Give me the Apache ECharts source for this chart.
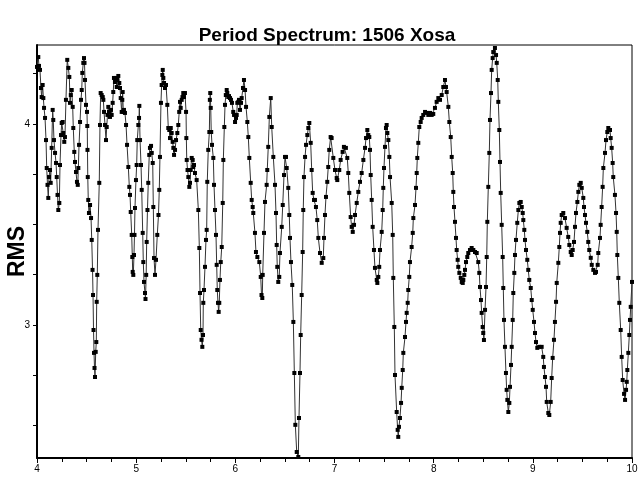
<!DOCTYPE html>
<html><head><meta charset="utf-8">
<script src="https://cdn.jsdelivr.net/npm/echarts@6/dist/echarts.min.js"></script>
<style>html,body{margin:0;padding:0;background:#fff}#c{width:640px;height:482px}</style>
</head><body><div id="c"></div>
<script>
const chartTitle = 'Period Spectrum: 1506 Xosa';
const yName = 'RMS';
const xRange = [4, 10];
const yRange = [2.338, 4.393];
const yLabelValues = [3, 4];
const yTickValues = [2.5, 2.75, 3, 3.25, 3.5, 3.75, 4, 4.25];

const periods = [
4.000,4.013,4.020,4.030,4.040,4.047,4.057,4.064,4.071,4.081,
4.091,4.098,4.106,4.114,4.121,4.131,4.138,4.148,4.158,4.164,
4.171,4.182,4.192,4.199,4.207,4.215,4.225,4.232,4.242,4.249,
4.259,4.265,4.275,4.282,4.292,4.305,4.316,4.326,4.333,4.341,
4.350,4.360,4.366,4.376,4.383,4.393,4.403,4.411,4.417,4.424,
4.434,4.444,4.451,4.457,4.467,4.474,
4.479,4.484,4.494,4.504,4.507,4.509,4.512,4.517,4.524,4.535,
4.545,4.552,4.560,4.565,4.570,4.575,4.580,4.585,4.592,4.598,
4.602,4.608,4.615,4.628,4.635,4.642,4.652,4.663,4.669,4.676,
4.686,4.696,4.703,4.711,4.719,4.726,4.736,4.746,4.753,4.763,
4.769,4.776,4.786,4.797,4.804,4.810,4.820,4.830,4.837,4.844,
4.854,4.860,4.864,4.870,4.877,4.887,4.898,4.908,4.921,4.931,
4.938,4.945,4.955,4.961,4.965,4.971,
4.978,4.983,4.988,4.998,5.005,5.011,5.022,5.029,5.032,5.039,
5.049,5.056,5.066,5.072,5.079,5.089,5.094,5.101,5.106,5.114,
5.122,5.132,5.139,5.150,5.157,5.167,5.173,5.180,5.190,5.200,
5.213,5.225,5.233,5.240,5.250,5.257,5.264,5.268,5.274,5.281,
5.291,5.301,5.314,5.324,5.334,5.341,5.349,5.358,5.368,5.375,
5.382,5.392,5.402,5.415,5.425,5.434,5.442,5.449,5.459,5.467,
5.475,5.482,5.492,5.503,5.506,5.510,5.518,5.526,5.536,5.543,
5.550,5.560,5.570,5.576,5.583,5.593,5.610,5.627,5.637,5.644,
5.651,5.659,5.667,5.674,5.677,5.684,5.694,5.704,5.711,5.717,
5.727,5.738,5.743,5.747,5.752,5.757,5.765,5.778,5.785,5.795,
5.805,5.812,5.818,5.825,5.832,5.838,5.845,5.853,5.863,5.873,
5.879,5.889,5.896,5.904,5.913,5.919,5.929,5.936,5.946,5.956,
5.966,5.979,5.987,5.997,6.007,6.014,6.020,6.030,6.037,6.047,
6.057,6.064,6.077,6.087,6.098,6.108,6.121,
6.131,6.141,6.155,6.165,6.175,6.181,6.198,6.208,6.222,6.242,
6.256,6.264,6.272,6.276,6.289,6.299,6.316,6.322,6.332,6.343,
6.357,6.367,6.383,6.400,6.410,6.417,6.423,6.433,6.443,6.450,
6.468,6.478,6.491,6.501,6.511,6.518,6.534,6.544,6.551,6.561,
6.574,6.585,6.595,6.605,6.619,6.635,6.642,6.652,6.659,6.669,
6.679,6.685,6.692,6.703,6.713,6.726,6.736,6.746,6.760,6.770,
6.780,6.793,6.803,6.813,6.826,6.837,6.854,6.871,6.887,6.894,
6.904,6.914,6.927,6.937,6.947,6.961,6.971,6.988,7.005,7.022,
7.028,7.048,7.062,7.082,7.095,7.115,7.129,7.139,7.149,7.163,
7.173,7.184,7.197,7.207,7.224,7.240,7.257,7.274,7.291,7.308,
7.318,7.331,7.341,7.351,7.358,7.365,7.375,7.385,7.398,7.408,
7.426,7.432,7.442,7.451,7.459,7.476,7.486,7.492,7.499,7.509,
7.519,7.526,7.533,7.543,7.553,7.560,7.577,7.587,7.593,7.603,
7.610,7.627,7.637,7.643,7.650,7.660,7.671,7.678,7.688,7.694,
7.711,7.721,7.728,7.738,7.744,7.754,7.761,7.778,7.789,7.795,
7.812,7.822,7.829,7.835,7.845,7.855,7.869,7.879,7.895,7.913,
7.930,7.946,7.963,7.980,7.996,8.013,8.030,8.047,8.064,8.081,
8.097,8.114,8.124,8.131,8.148,8.158,8.172,8.182,8.192,8.198,
8.205,8.215,8.225,8.232,8.242,8.248,8.259,8.273,8.283,8.293,
8.299,8.309,8.316,8.326,8.339,8.349,8.366,8.383,8.400,8.417,
8.434,8.450,8.460,8.467,8.477,8.484,8.494,8.500,8.507,8.518,
8.528,8.535,8.541,8.551,8.561,8.568,8.578,8.585,8.595,8.601,
8.618,8.629,8.636,8.646,8.652,8.662,8.669,8.676,8.686,8.696,
8.702,8.709,8.719,8.729,8.736,8.743,8.753,8.763,8.770,8.780,
8.787,8.797,8.803,8.813,8.820,8.830,8.843,8.854,8.864,8.878,
8.888,8.898,8.904,8.914,8.921,8.931,8.944,8.954,8.964,8.979,
8.989,8.999,9.012,9.022,9.032,9.045,9.065,9.089,9.105,9.112,
9.123,9.133,9.140,9.156,9.166,9.180,9.190,9.200,9.213,9.223,
9.234,9.241,9.257,9.267,9.274,9.281,9.291,9.307,9.324,9.341,
9.357,9.368,9.382,9.392,9.402,9.415,9.425,9.435,9.449,9.459,
9.469,9.483,9.493,9.509,9.516,9.526,9.536,9.549,9.559,9.569,
9.584,9.594,9.610,9.627,9.637,9.654,9.660,9.677,9.684,9.694,
9.704,9.711,9.728,9.738,9.751,9.761,9.778,9.785,9.795,9.805,
9.811,9.828,9.839,9.846,9.852,9.862,9.872,9.886,9.896,9.906,
9.920,9.930,9.940,9.947,9.953,9.963,9.973,9.980,9.987,10.000
];

const rms = [
4.284,4.333,4.289,4.269,4.179,4.134,4.194,4.129,4.080,4.030,
3.920,3.781,3.697,3.632,3.736,3.771,3.707,3.881,4.070,4.020,
3.920,3.856,3.806,3.736,3.647,3.572,3.607,3.796,3.945,4.005,
4.010,3.955,3.911,3.935,4.120,4.319,4.279,4.234,4.105,4.144,
4.169,4.085,3.980,3.861,3.811,3.761,3.712,3.697,3.781,3.896,
4.010,4.120,4.169,4.254,4.304,4.328,
4.304,4.219,4.095,4.060,3.990,3.871,3.736,3.622,3.557,3.597,
3.532,3.423,3.274,3.149,2.975,2.861,2.786,2.741,2.866,2.915,
3.115,3.249,3.473,3.707,3.995,4.154,4.144,4.134,4.120,4.060,
3.995,3.920,3.985,4.045,4.085,4.060,4.035,4.070,4.045,4.105,
4.159,4.229,4.209,4.229,4.184,4.219,4.239,4.204,4.179,4.129,
4.060,4.120,4.159,4.060,4.070,4.055,3.995,3.896,3.786,3.687,
3.647,3.562,3.448,3.338,3.264,3.249,
3.348,3.448,3.582,3.721,3.796,3.920,3.995,4.030,4.090,3.920,
3.796,3.672,3.458,3.313,3.214,3.159,3.129,3.249,3.413,3.572,
3.707,3.846,3.881,3.891,3.856,3.806,3.587,3.333,3.249,3.324,
3.448,3.547,3.672,3.836,4.105,4.194,4.244,4.269,4.229,4.204,
4.179,4.194,4.095,3.980,3.970,3.930,3.980,3.955,3.911,3.881,
3.846,3.871,3.920,3.955,3.995,4.060,4.110,4.080,4.120,4.134,
4.154,4.134,4.154,4.060,3.930,3.821,3.771,3.736,3.687,3.707,
3.771,3.831,3.821,3.786,3.796,3.756,3.721,3.572,3.383,3.159,
2.975,2.926,2.891,2.950,3.110,3.174,3.289,3.423,3.473,3.712,
3.871,3.960,4.120,4.154,4.080,3.960,3.896,3.831,3.697,3.572,
3.448,3.299,3.174,3.110,3.065,3.110,3.224,3.313,3.388,3.607,
3.821,3.985,4.095,4.144,4.169,4.154,4.134,4.139,4.129,4.120,
4.105,4.060,4.045,4.010,4.030,4.045,4.105,4.110,4.120,4.070,
4.105,4.129,4.179,4.219,4.169,4.085,4.010,
3.935,3.831,3.707,3.622,3.587,3.557,3.458,3.363,3.338,3.313,
3.239,3.149,3.134,3.249,3.458,3.612,3.697,3.771,3.886,4.035,
4.129,3.985,3.836,3.697,3.557,3.398,3.289,3.214,3.239,3.358,
3.488,3.597,3.746,3.836,3.836,3.781,3.682,3.547,3.433,3.313,
3.199,3.015,2.761,2.503,2.368,2.343,2.537,2.761,2.950,3.149,
3.363,3.572,3.736,3.836,3.896,3.945,3.980,4.005,3.906,3.771,
3.657,3.622,3.622,3.587,3.522,3.433,3.358,3.309,3.333,3.433,
3.547,3.637,3.712,3.786,3.871,3.935,3.930,3.831,3.771,3.731,
3.721,3.771,3.821,3.861,3.886,3.881,3.831,3.756,3.657,3.537,
3.488,3.463,3.498,3.547,3.607,3.662,3.712,3.756,3.821,3.881,
3.930,3.970,3.945,3.935,3.871,3.746,3.622,3.488,3.373,3.284,
3.224,3.209,3.239,3.289,3.373,3.463,3.572,3.682,3.781,3.886,
3.980,3.995,3.955,3.920,3.836,3.736,3.607,3.448,3.234,2.990,
2.751,2.567,2.478,2.443,2.493,2.537,2.612,2.687,2.776,2.861,
2.940,3.015,3.060,3.110,3.174,3.239,3.313,3.388,3.458,3.532,
3.597,3.682,3.756,3.831,3.906,3.985,4.010,4.030,4.045,4.060,
4.055,4.045,4.055,4.045,4.050,4.080,4.110,4.129,4.120,4.144,
4.184,4.219,4.184,4.159,4.085,4.010,3.935,3.836,3.756,3.662,
3.587,3.513,3.433,3.373,3.324,3.289,3.259,3.234,3.214,3.209,
3.224,3.249,3.274,3.313,3.338,3.358,3.373,3.383,3.373,3.363,
3.358,3.313,3.259,3.189,3.124,3.060,2.990,2.960,2.925,3.075,
3.189,3.338,3.513,3.687,3.856,4.020,4.154,4.269,4.328,4.358,
4.378,4.343,4.304,4.219,4.110,3.970,3.811,3.657,3.498,3.338,
3.184,3.025,2.891,2.761,2.677,2.627,2.567,2.612,2.692,2.801,
2.891,3.025,3.159,3.259,3.348,3.423,3.508,3.572,3.607,3.612,
3.587,3.557,3.522,3.473,3.423,3.373,3.324,3.274,3.224,3.184,
3.124,3.075,3.015,2.960,2.915,2.886,2.891,2.891,2.841,2.791,
2.741,2.692,2.617,2.562,2.552,2.617,2.736,2.836,2.926,3.015,
3.115,3.209,3.309,3.388,3.458,3.508,3.547,3.557,3.532,3.483,
3.438,3.398,3.363,3.348,3.373,3.413,3.488,3.557,3.612,3.662,
3.697,3.707,3.682,3.632,3.587,3.547,3.508,3.463,3.413,3.373,
3.334,3.299,3.274,3.259,3.264,3.299,3.358,3.433,3.498,3.587,
3.687,3.781,3.856,3.920,3.960,3.980,3.970,3.930,3.881,3.806,
3.736,3.647,3.557,3.463,3.348,3.234,3.110,2.975,2.841,2.726,
2.657,2.627,2.677,2.717,2.776,2.861,2.950,3.025,3.090,3.214
];

const points = periods.map((p, i) => [p, rms[i]]);
const FONT = '"Liberation Sans", Arial, sans-serif';

const chart = echarts.init(document.getElementById('c'), null, {renderer: 'canvas'});
chart.setOption({
  animation: false,
  backgroundColor: '#fff',
  title: {
    text: chartTitle,
    left: 322, top: 21, textAlign: 'center',
    textStyle: {fontFamily: FONT, fontSize: 19, fontWeight: 'bold', color: '#000'}
  },
  grid: {left: 37, right: 8, top: 45, bottom: 24, show: true, borderColor: '#000', borderWidth: 1,
         backgroundColor: 'transparent', containLabel: false, outerBoundsMode: 'none'},
  xAxis: {
    type: 'value', min: xRange[0], max: xRange[1], interval: 1,
    axisLine: {show: true, onZero: false, lineStyle: {color: '#000', width: 2}},
    axisTick: {show: true, length: 5, lineStyle: {color: '#000'}},
    minorTick: {show: true, splitNumber: 4, length: 4, lineStyle: {color: '#000'}},
    splitLine: {show: false},
    axisLabel: {color: '#000', fontFamily: FONT, fontSize: 10, margin: 6}
  },
  yAxis: {
    type: 'value', min: yRange[0], max: yRange[1],
    name: yName, nameLocation: 'middle', nameRotate: 90, nameGap: 8, nameMoveOverlap: false,
    nameTextStyle: {fontFamily: FONT, fontSize: 23, fontWeight: 'bold', color: '#000'},
    axisLine: {show: true, onZero: false, lineStyle: {color: '#000', width: 2}},
    axisTick: {show: true, length: 4, customValues: yTickValues, lineStyle: {color: '#000'}},
    splitLine: {show: false},
    axisLabel: {color: '#000', fontFamily: FONT, fontSize: 10, margin: 7, customValues: yLabelValues}
  },
  series: [{
    type: 'line', data: points,
    symbol: 'rect', symbolSize: 4, showSymbol: true, showAllSymbol: true,
    itemStyle: {color: '#000'},
    lineStyle: {color: '#333', width: 1},
    clip: true
  }]
});
</script>
</body></html>
